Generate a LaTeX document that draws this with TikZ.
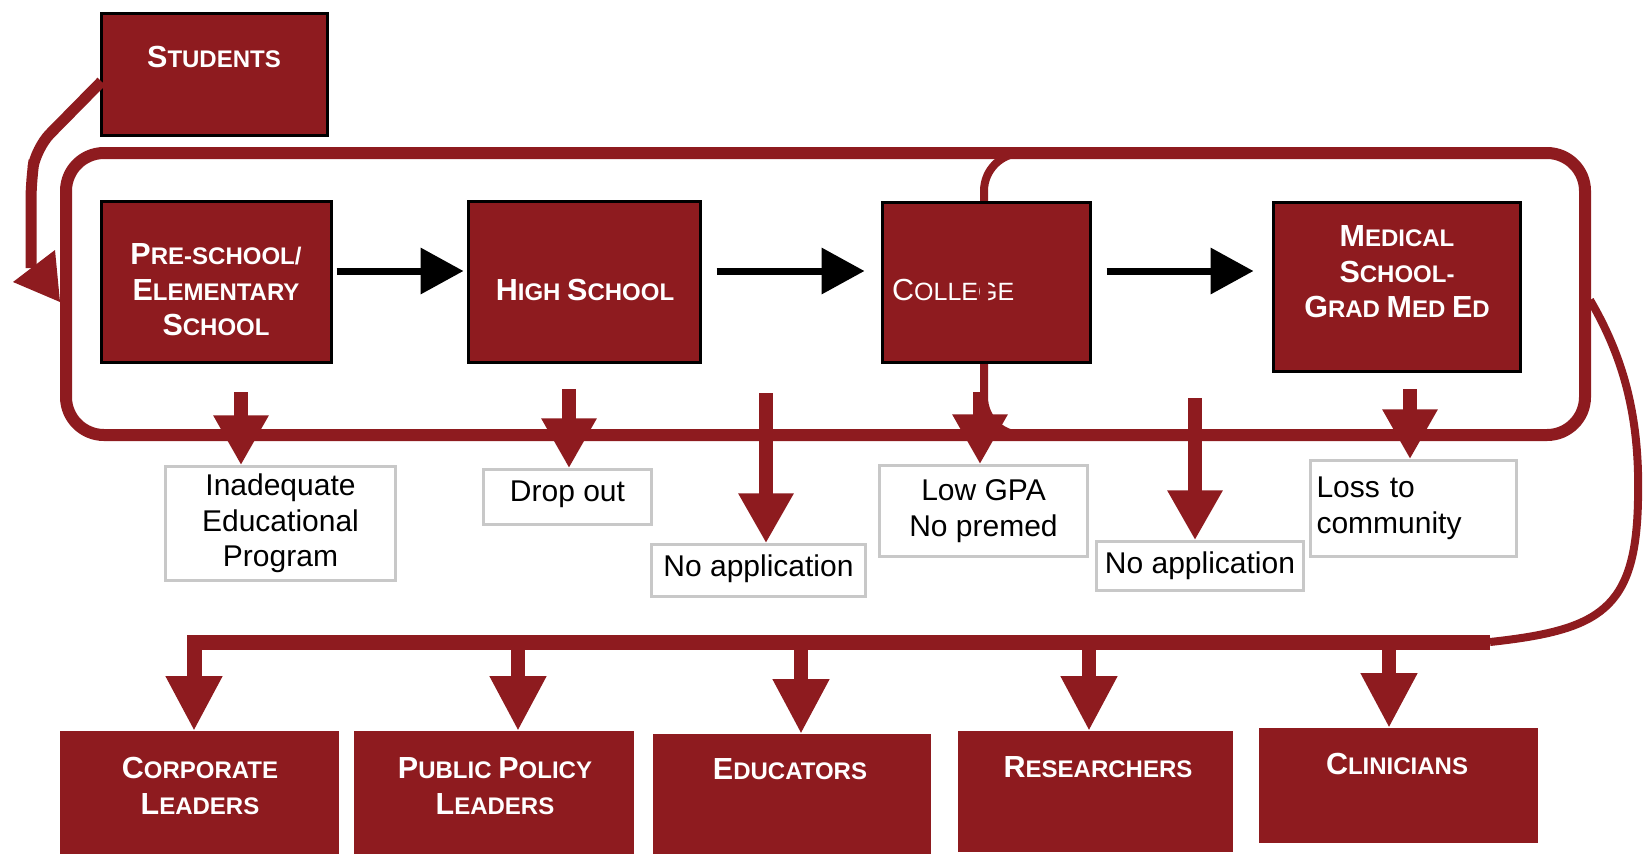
\documentclass[tikz,border=0pt]{standalone}
\usepackage{fontspec}
\setmainfont{Liberation Sans}
\usetikzlibrary{arrows.meta}
\definecolor{schoolred}{RGB}{142,27,31}
\definecolor{framegray}{RGB}{200,200,200}
\newcommand\scword[2]{{\fontsize{30.5}{35.5}\selectfont #1}#2}

\begin{document}
\begin{tikzpicture}[x=1pt, y=-1pt,
    stagebox/.style={draw=black, line width=3pt, fill=schoolred, inner sep=0pt, outer sep=0pt},
    rolebox/.style={fill=schoolred, inner sep=0pt, outer sep=0pt},
    capstext/.style={text=white, align=center, inner sep=0pt, font=\bfseries\fontsize{24}{35.5}\selectfont},
    lossbox/.style={draw=framegray, line width=2.5pt, fill=white, align=center, inner sep=4pt, font=\fontsize{30}{35.5}\selectfont},
    lossarrow/.style={draw=schoolred, line width=14pt, -{Triangle[width=52pt, length=50pt]}},
    rolearrow/.style={draw=schoolred, line width=14pt, -{Triangle[width=53pt, length=55pt]}},
    flowarrow/.style={draw=black, line width=7pt, -{Triangle[width=45pt, length=43pt]}}]
    \useasboundingbox (0,0) rectangle (1646,855);

    % pipeline frame
    \draw[schoolred, line width=12pt, rounded corners=38pt] (66,153) rectangle (1585,435);

    % students enter the pipeline
    \node[stagebox, minimum width=226pt, minimum height=122pt] (stud) at (214.5,74.5) {};
    \node[capstext] (stud-t) at (214,57) {\scword{S}{TUDENTS}};
    \coordinate (entry) at (31,268);
    \draw[schoolred, line width=11pt, rounded corners=20pt] ([yshift=-7pt]stud.west) -- (36,148) -- (31,180) -- (entry);
    \fill[schoolred] (13,282) -- (55,250) -- (60,302) -- cycle;

    % stages
    \node[stagebox, minimum width=230pt, minimum height=161pt] (pre) at (216.5,282) {};
    \node[capstext] (pre-t) at (216,290) {\scword{P}{RE-SCHOOL/}\\\scword{E}{LEMENTARY}\\\scword{S}{CHOOL}};
    \node[stagebox, minimum width=232pt, minimum height=161pt] (high) at (584.5,282) {};
    \node[capstext] (high-t) at (585,290) {\scword{H}{IGH} \scword{S}{CHOOL}};
    \node[stagebox, minimum width=208pt, minimum height=160pt] (coll) at (986.5,282.5) {};
    \node[capstext, anchor=west, font=\fontsize{25}{35.5}\selectfont] (coll-t) at (892,290) {\scword{C}{OLLEGE}};
    \node[stagebox, minimum width=247pt, minimum height=169pt] (med) at (1397,287) {};
    \node[capstext] (med-t) at (1397,272) {\scword{M}{EDICAL}\\\scword{S}{CHOOL-}\\\scword{G}{RAD} \scword{M}{ED} \scword{E}{D}};

    % second frame runs over the college box
    \draw[schoolred, line width=8pt, rounded corners=38pt] (984,153) rectangle (1585,435);
    \draw[line width=3pt] (coll.south west) rectangle (coll.north east);

    % losses
    \node[lossbox, minimum width=230pt, minimum height=114pt] (lab1) at (280.5,523.5) {Inadequate\\Educational\\Program};
    \node[lossbox, minimum width=168pt, minimum height=55pt, text depth=12pt] (lab2) at (567.5,497) {Drop out};
    \node[lossbox, minimum width=214pt, minimum height=52pt, text depth=10pt] (lab3) at (758.5,570.5) {No application};
    \node[lossbox, minimum width=208pt, minimum height=91pt] (lab4) at (983.5,511) {Low GPA\\No premed};
    \node[lossbox, minimum width=207pt, minimum height=49pt] (lab5) at (1200,566) {No application};
    \node[lossbox, align=left, text width=194pt, inner xsep=6pt, minimum height=96pt] (lab6) at (1413.5,508.5) {Loss to\\community};

    \foreach \x/\y/\lab in {241/392/lab1, 569/389/lab2, 766/393/lab3, 980/392/lab4, 1195/398/lab5, 1410/389/lab6}
        \draw[lossarrow] (\x,\y) -- (\x,\y |- \lab.north);

    % flow between stages
    \draw[flowarrow] ([xshift=5pt, yshift=11pt]pre.east) -- ([xshift=-5pt, yshift=11pt]high.west);
    \draw[flowarrow] ([xshift=16pt, yshift=11pt]high.east) -- ([xshift=-18pt, yshift=11.5pt]coll.west);
    \draw[flowarrow] ([xshift=16pt, yshift=11.5pt]coll.east) -- ([xshift=-20pt, yshift=16pt]med.west);

    % outcomes
    \node[rolebox, minimum width=279pt, minimum height=123pt] (corp) at (199.5,792.5) {};
    \node[capstext] (corp-t) at (200,786) {\scword{C}{ORPORATE}\\\scword{L}{EADERS}};
    \node[rolebox, minimum width=280pt, minimum height=123pt] (pub) at (494,792.5) {};
    \node[capstext] (pub-t) at (495,786) {\scword{P}{UBLIC} \scword{P}{OLICY}\\\scword{L}{EADERS}};
    \node[rolebox, minimum width=278pt, minimum height=120pt] (edu) at (792,794) {};
    \node[capstext] (edu-t) at (790,769) {\scword{E}{DUCATORS}};
    \node[rolebox, minimum width=275pt, minimum height=121pt] (res) at (1095.5,791.5) {};
    \node[capstext] (res-t) at (1098,767) {\scword{R}{ESEARCHERS}};
    \node[rolebox, minimum width=279pt, minimum height=115pt] (clin) at (1398.5,785.5) {};
    \node[capstext] (clin-t) at (1397,764) {\scword{C}{LINICIANS}};

    \coordinate (fork) at (1490,642);
    \draw[schoolred, line width=8pt] (1590,300) .. controls (1625,360) and (1640,420) .. (1638,500)
        .. controls (1636,610) and (1600,630) .. (fork);
    \draw[rolearrow, line width=15pt] (fork) -- (194,642) -- (194,642 |- corp.north);
    \foreach \x/\role in {518/pub, 801/edu, 1089/res, 1389/clin}
        \draw[rolearrow] (\x,642) -- (\x,642 |- \role.north);
\end{tikzpicture}
\end{document}
